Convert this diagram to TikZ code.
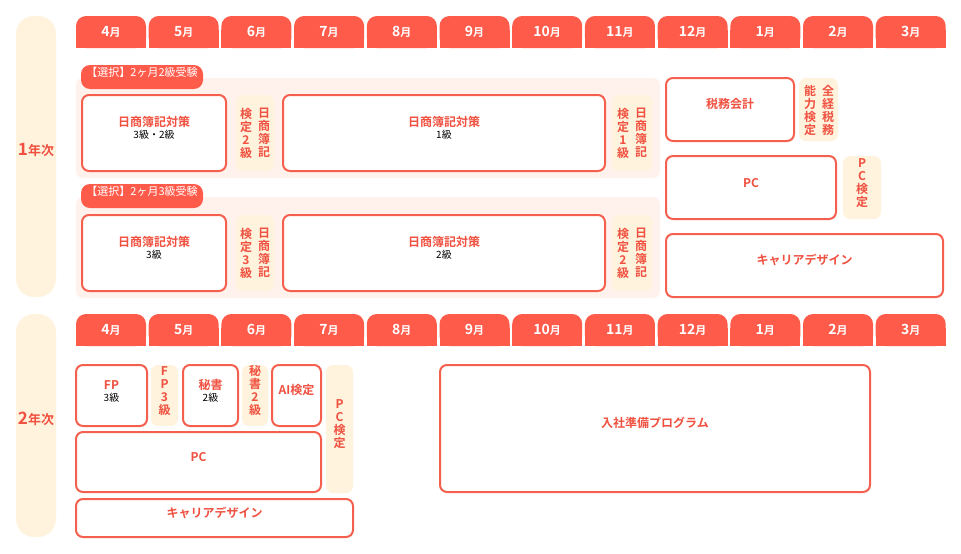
\documentclass[tikz,border=0pt]{standalone}
\usepackage{fontspec}
\setmainfont{Noto Sans CJK JP}[BoldFont={Noto Sans CJK JP Bold}]
\usetikzlibrary{fit}
\definecolor{tabred}{HTML}{FF5B4B}
\definecolor{bred}{HTML}{F5604E}
\definecolor{tred}{HTML}{F0503F}
\definecolor{cream}{HTML}{FFF3DE}
\definecolor{pinkbg}{HTML}{FFF2EC}
\tikzset{
  x=1pt,y=-1pt,
  box/.style={draw=bred,line width=2pt,rounded corners=7pt,fill=white,inner sep=0pt,align=center,text=tred,font=\fontsize{12}{14}\selectfont\bfseries},
  cr/.style={fill=cream,rounded corners=7pt,inner sep=0pt,align=center,text=tred,font=\fontsize{12}{13}\selectfont\bfseries},
  grp/.style={fill=pinkbg,rounded corners=7pt,inner sep=0pt},
  pill/.style={fill=tabred,rounded corners=9pt,inner sep=0pt,text=white,font=\fontsize{11}{12}\selectfont},
  tabtxt/.style={text=white,font=\fontsize{14}{14}\selectfont\bfseries},
  yr/.style={fill=cream,rounded corners=18pt,inner sep=0pt,text=tred,font=\fontsize{13}{14}\selectfont\bfseries},
}
\newcommand\bx[7]{\node[#2, fit={(#3,#4)(#5,#6)}] (#1) {#7};}
\newcommand\sub[1]{\\[-2pt]{\color{black}\fontsize{10}{12}\selectfont\mdseries #1}}
\newcommand\mtab[4]{% name, x, y, label
  \fill[tabred,rounded corners=10pt] (#2,#3) rectangle ++(70,32);
  \fill[tabred] (#2,#3+14) rectangle ++(70,18);
  \node[tabtxt] (#1) at (#2+35,#3+16) {#4};}
\newcommand\m[1]{#1{\fontsize{11}{11}\selectfont 月}}
\begin{document}
\begin{tikzpicture}
\useasboundingbox (0,0) rectangle (961,554);
% year bars
\bx{y1}{yr}{16}{16}{56}{297}{\fontsize{17}{17}\selectfont 1\fontsize{13}{14}\selectfont 年次}
\bx{y2}{yr}{16}{314}{56}{537}{\fontsize{17}{17}\selectfont 2\fontsize{13}{14}\selectfont 年次}
% tabs
\foreach \lab [count=\i from 0] in {4,5,6,7,8,9,10,11,12,1,2,3}{
  \pgfmathsetmacro\xx{76+72.7*\i}
  \mtab{ta\i}{\xx}{16}{\m{\lab}}
  \mtab{tb\i}{\xx}{314}{\m{\lab}}
}
% groups
\bx{g1}{grp}{76}{78}{660}{178}{}
\bx{g2}{grp}{76}{197}{660}{298}{}
\bx{p1}{pill}{81}{65}{203}{89}{【選択】2ヶ月2級受験}
\bx{p2}{pill}{81}{184}{203}{208}{【選択】2ヶ月3級受験}
% group 1
\bx{a1}{box}{82}{95}{226}{171}{日商簿記対策\sub{3級・2級}}
\bx{a2}{cr}{236}{95}{274}{171}{}
\node[cr,fill=none] at (264,133) {日\\商\\簿\\記};
\node[cr,fill=none] at (246,133) {検\\定\\2\\級};
\bx{a3}{box}{283}{95}{605}{171}{日商簿記対策\sub{1級}}
\bx{a4}{cr}{612}{95}{652}{171}{}
\node[cr,fill=none] at (641,133) {日\\商\\簿\\記};
\node[cr,fill=none] at (623,133) {検\\定\\1\\級};
% group 2
\bx{b1}{box}{82}{215}{226}{291}{日商簿記対策\sub{3級}}
\bx{b2}{cr}{236}{215}{274}{291}{}
\node[cr,fill=none] at (264,253) {日\\商\\簿\\記};
\node[cr,fill=none] at (246,253) {検\\定\\3\\級};
\bx{b3}{box}{283}{215}{605}{291}{日商簿記対策\sub{2級}}
\bx{b4}{cr}{612}{215}{652}{291}{}
\node[cr,fill=none] at (641,253) {日\\商\\簿\\記};
\node[cr,fill=none] at (623,253) {検\\定\\2\\級};
% right column
\bx{c1}{box}{666}{78}{794}{141}{税務会計}
\bx{c2}{cr}{799}{78}{838}{141}{}
\node[cr,fill=none] at (828,110) {全\\経\\税\\務};
\node[cr,fill=none] at (810,110) {能\\力\\検\\定};
\bx{c3}{box}{666}{156}{836}{219}{PC}
\bx{c4}{cr}{843}{156}{881}{219}{P\\C\\検\\定}
\bx{c5}{box}{666}{234}{943}{297}{キャリアデザイン}
% year 2
\bx{d1}{box}{76}{365}{147}{426}{FP\sub{3級}}
\bx{d2}{cr}{151}{365}{178}{426}{F\\P\\3\\級}
\bx{d3}{box}{183}{365}{238}{426}{秘書\sub{2級}}
\bx{d4}{cr}{242}{365}{268}{426}{秘\\書\\2\\級}
\bx{d5}{box}{272}{365}{321}{426}{AI検定}
\bx{d6}{cr}{326}{365}{353}{493}{P\\C\\検\\定}
\bx{d7}{box}{76}{432}{321}{492}{PC}
\bx{d8}{box}{76}{499}{353}{537}{キャリアデザイン}
\bx{d9}{box}{440}{365}{870}{492}{入社準備プログラム}
\end{tikzpicture}
\end{document}
